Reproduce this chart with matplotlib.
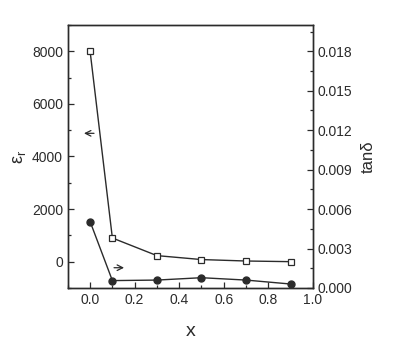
import numpy as np
import matplotlib
matplotlib.use("Agg")
import matplotlib.pyplot as plt
from matplotlib.ticker import MultipleLocator

plt.rcParams['font.family'] = ['Liberation Sans', 'DejaVu Sans']
plt.rcParams['mathtext.default'] = 'regular'

# data
x = [0.0, 0.1, 0.3, 0.5, 0.7, 0.9]
eps_r = [8000, 900, 230, 80, 25, 0]
tan_d = [0.00505, 0.00056, 0.0006, 0.00078, 0.0006, 0.0003]

ink = '#2b2b2b'

fig = plt.figure(figsize=(3.99, 3.42), dpi=100)
ax = fig.add_axes([0.170, 0.158, 0.614, 0.769])
ax2 = ax.twinx()

ax.plot(x, eps_r, color=ink, lw=1.0, marker='s', ms=4.5, mfc='white', mec=ink, mew=0.9)
ax2.plot(x, tan_d, color=ink, lw=1.0, marker='o', ms=5, mfc=ink, mec=ink)

ax.set_xlim(-0.1, 1.0)
ax.set_ylim(-1000, 9000)
ax2.set_ylim(0, 0.020)

ax.xaxis.set_major_locator(MultipleLocator(0.2))
ax.xaxis.set_minor_locator(MultipleLocator(0.1))
ax.yaxis.set_major_locator(MultipleLocator(2000))
ax.yaxis.set_minor_locator(MultipleLocator(1000))
ax2.yaxis.set_major_locator(MultipleLocator(0.003))
ax2.yaxis.set_minor_locator(MultipleLocator(0.0015))
ax.xaxis.set_major_formatter(matplotlib.ticker.FormatStrFormatter('%.1f'))
ax2.yaxis.set_major_formatter(matplotlib.ticker.FormatStrFormatter('%.3f'))

for a in (ax, ax2):
    a.tick_params(which='both', direction='in', colors=ink, labelsize=10, top=False)
    a.tick_params(which='major', length=4, width=0.9)
    a.tick_params(which='minor', length=2.5, width=0.9)
    for s in a.spines.values():
        s.set_color(ink)
        s.set_linewidth(1.0)

ax.set_xlabel('x', fontsize=14, color=ink, labelpad=12)
ax.set_ylabel('ε$_r$', fontsize=13, color=ink, labelpad=3)
ax2.set_ylabel('tanδ', fontsize=12, color=ink, labelpad=6)

# arrows pointing to the axes
ax.annotate('', xy=(-0.04, 4880), xytext=(0.03, 4880),
            arrowprops=dict(arrowstyle='->', color=ink, lw=0.9))
ax.annotate('', xy=(0.165, -230), xytext=(0.095, -230),
            arrowprops=dict(arrowstyle='->', color=ink, lw=0.9))

fig.savefig('out.png', dpi=100)
